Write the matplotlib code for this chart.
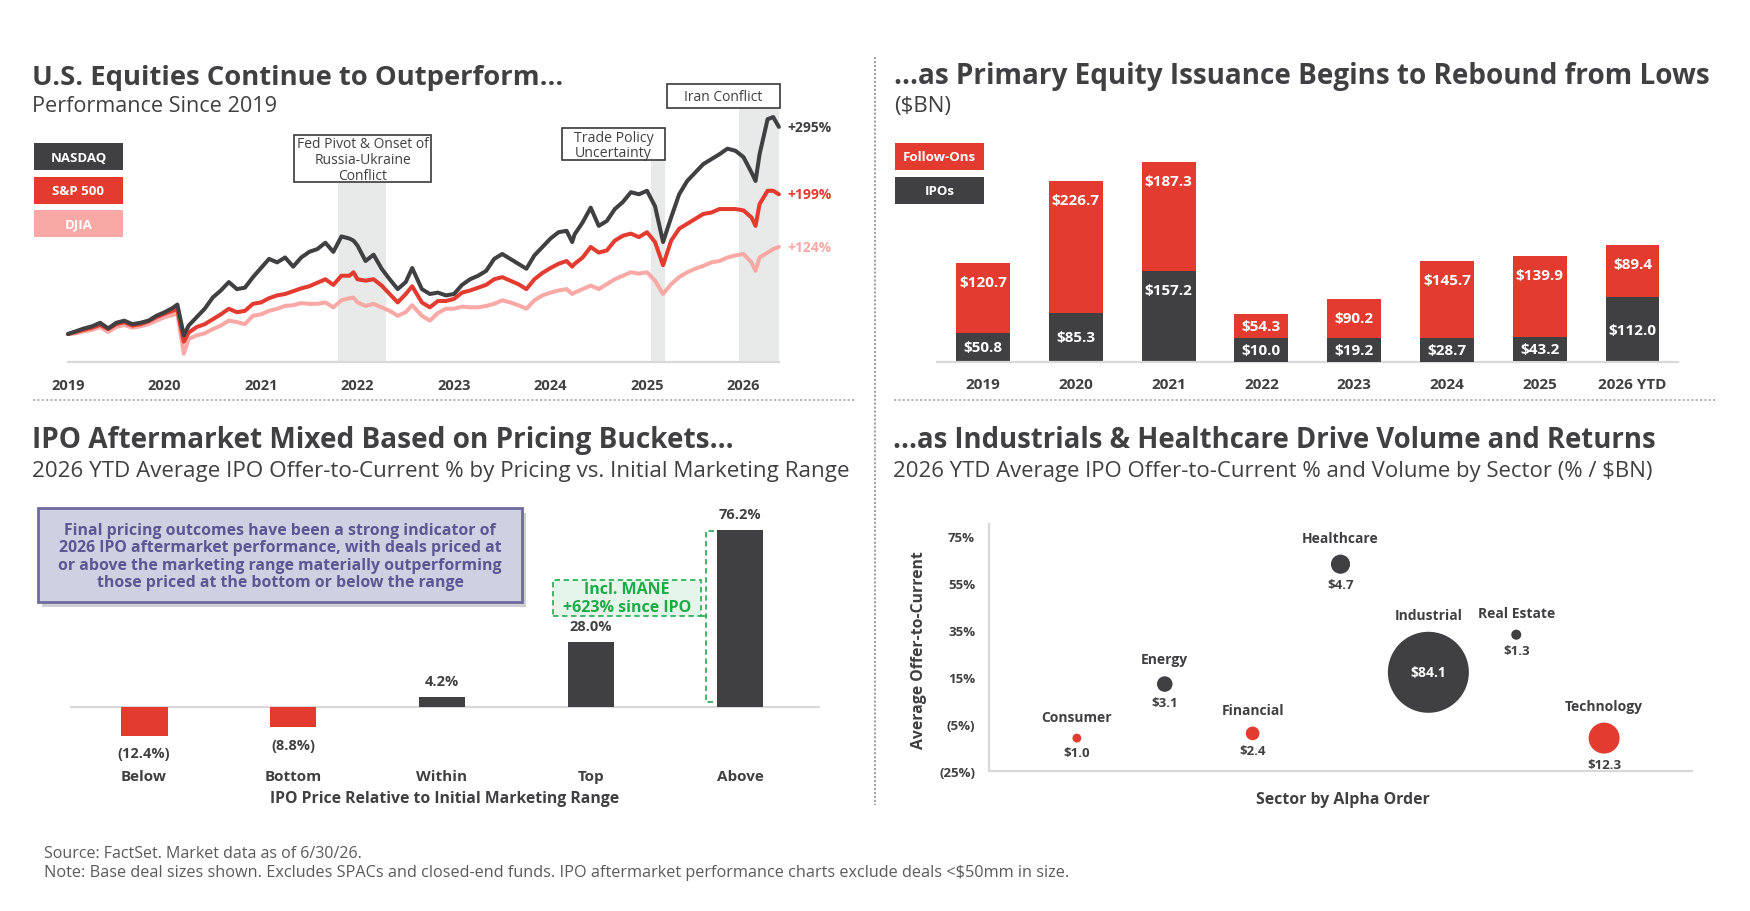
import matplotlib
matplotlib.use("Agg")
import matplotlib.pyplot as plt
from matplotlib.patches import Rectangle
from matplotlib.lines import Line2D
import numpy as np

plt.rcParams['font.family'] = ['Open Sans', 'DejaVu Sans']

# ------------------------------------------------------------------ data
# Performance since 2019 (% change); months since Jan-2019
perf_months = [0, 1, 2, 3, 4, 5, 6, 7, 8, 9, 10, 11, 12, 13, 13.6, 14.4,
               15, 16, 17, 18, 19, 20, 21, 22, 23, 24, 25, 26, 27, 28, 29, 30,
               31, 32, 33, 34, 35, 35.5, 36, 37, 38, 39, 40, 41, 42, 42.8,
               44, 45, 46, 47, 48, 49, 50, 51, 52, 53, 54, 55, 56, 57, 58, 59,
               60, 61, 62, 62.7, 63, 64, 65, 66, 67, 68, 69, 70, 71, 72, 73,
               74, 75, 76, 77, 78, 79, 80, 81, 82, 83, 84, 85, 85.5, 86, 87,
               87.7, 88.4]
nasdaq_pct = [0, 4, 8, 11, 16, 8, 16, 19, 14, 16, 19, 26, 31, 37, 42, -2,
              12, 24, 36, 52, 62, 74, 64, 66, 81, 94, 107, 102, 109, 96, 109, 117,
              121, 130, 117, 139, 136, 133, 126, 104, 113, 93, 78, 64, 74, 94,
              64, 57, 59, 55, 57, 70, 78, 83, 90, 107, 114, 107, 100, 93, 112, 124,
              136, 145, 147, 131, 142, 159, 180, 154, 161, 178, 188, 202, 199, 204, 182,
              131, 166, 199, 218, 230, 242, 249, 256, 264, 261, 252, 230, 218, 256, 306,
              309, 295]
sp500_pct = [0, 3, 6, 9, 13, 7, 14, 17, 12, 14, 18, 24, 29, 33, 35, -11,
             2, 10, 14, 21, 28, 36, 31, 33, 43, 45, 51, 55, 57, 61, 65, 68,
             73, 78, 70, 83, 83, 88, 78, 76, 78, 69, 57, 45, 57, 68,
             45, 38, 47, 47, 50, 59, 62, 66, 70, 78, 81, 76, 71, 64, 78, 87,
             94, 100, 104, 96, 100, 109, 124, 116, 119, 133, 140, 143, 138, 145, 131,
             98, 133, 150, 157, 164, 171, 173, 178, 178, 178, 176, 166, 154, 185, 204,
             204, 199]
djia_pct = [0, 1, 4, 6, 10, 3, 10, 13, 9, 11, 14, 19, 24, 27, 29, -28,
            -7, -2, 1, 7, 12, 19, 17, 14, 26, 28, 33, 36, 40, 41, 44, 43,
            43, 45, 38, 48, 51, 52, 45, 40, 43, 38, 33, 26, 31, 41,
            26, 19, 30, 36, 36, 39, 38, 38, 40, 43, 48, 45, 41, 36, 48, 55,
            59, 62, 64, 57, 59, 64, 69, 64, 71, 78, 83, 88, 86, 88, 76,
            57, 71, 81, 88, 93, 97, 102, 104, 109, 112, 114, 102, 90, 109, 116,
            121, 124]
index_names = ['NASDAQ', 'S&P 500', 'DJIA']
index_end_labels = ['+295%', '+199%', '+124%']
perf_years = [2019, 2020, 2021, 2022, 2023, 2024, 2025, 2026]
event_names = ['Fed Pivot & Onset of\nRussia-Ukraine\nConflict',
               'Trade Policy\nUncertainty', 'Iran Conflict']
event_start = [2021.80, 2025.04, 2025.95]
event_end = [2022.30, 2025.19, 2026.37]

# Primary equity issuance ($BN)
issuance_years = ['2019', '2020', '2021', '2022', '2023', '2024', '2025', '2026 YTD']
ipo_vol = [50.8, 85.3, 157.2, 10.0, 19.2, 28.7, 43.2, 112.0]
follow_on_vol = [120.7, 226.7, 187.3, 54.3, 90.2, 145.7, 139.9, 89.4]

# IPO aftermarket by pricing bucket (%)
pricing_buckets = ['Below', 'Bottom', 'Within', 'Top', 'Above']
pricing_returns = [-12.4, -8.8, 4.2, 28.0, 76.2]

# Sector bubbles
sectors = ['Consumer', 'Energy', 'Financial', 'Healthcare', 'Industrial',
           'Real Estate', 'Technology']
sector_return = [-11, 12, -9, 63, 17, 33, -11]
sector_volume = [1.0, 3.1, 2.4, 4.7, 84.1, 1.3, 12.3]
sector_yticks = [-25, -5, 15, 35, 55, 75]

# ------------------------------------------------------------------ style
DARK = '#404042'
RED = '#E33B30'
PINK = '#F9A9A5'
GRID = '#D9D9D9'
W, H = 1750, 912

fig = plt.figure(figsize=(W / 100, H / 100), dpi=100)
fig.patch.set_facecolor('white')


def fx(x):
    return x / W


def fy(y):
    return 1 - y / H


def ax_px(x0, y0, x1, y1):
    return fig.add_axes([fx(x0), fy(y1), (x1 - x0) / W, (y1 - y0) / H])


fit_list = []


def ftext(x, y, s, target_w=None, **kw):
    t = fig.text(fx(x), fy(y), s, **kw)
    if target_w:
        fit_list.append((t, target_w))
    return t


def frect(x0, y0, x1, y1, **kw):
    r = Rectangle((fx(x0), fy(y1)), (x1 - x0) / W, (y1 - y0) / H,
                  transform=fig.transFigure, **kw)
    fig.patches.append(r)
    return r


def fline(xs, ys, **kw):
    fig.lines.append(Line2D([fx(x) for x in xs], [fy(y) for y in ys],
                            transform=fig.transFigure, **kw))


def clean(ax):
    for s in ax.spines.values():
        s.set_visible(False)
    ax.set_facecolor('none')


# ------------------------------------------------------------------ dividers
fline([875, 875], [58, 806], color='#999999', lw=1.3, ls=(0, (1.2, 1.0)))
fline([33, 856], [401, 401], color='#B0B0B0', lw=1.3, ls=(0, (1.2, 1.2)))
fline([894, 1717], [401, 401], color='#B0B0B0', lw=1.3, ls=(0, (1.2, 1.2)))

# ------------------------------------------------------------------ titles
ftext(32, 85, 'U.S. Equities Continue to Outperform...', 530, fontsize=20,
      fontweight='bold', color=DARK, va='baseline')
ftext(32, 112, 'Performance Since 2019', 246, fontsize=14, color=DARK, va='baseline')
ftext(894, 84, '...as Primary Equity Issuance Begins to Rebound from Lows', 815,
      fontsize=20, fontweight='bold', color=DARK, va='baseline')
ftext(894, 112, '($BN)', 57, fontsize=14, color=DARK, va='baseline')
ftext(32, 448, 'IPO Aftermarket Mixed Based on Pricing Buckets...', 702, fontsize=20,
      fontweight='bold', color=DARK, va='baseline')
ftext(32, 477, '2026 YTD Average IPO Offer-to-Current % by Pricing vs. Initial Marketing Range',
      822, fontsize=14, color=DARK, va='baseline')
ftext(893, 448, '...as Industrials & Healthcare Drive Volume and Returns', 762,
      fontsize=20, fontweight='bold', color=DARK, va='baseline')
ftext(893, 477, '2026 YTD Average IPO Offer-to-Current % and Volume by Sector (% / $BN)',
      762, fontsize=14, color=DARK, va='baseline')

# ------------------------------------------------------------------ chart 1: performance
ax1 = ax_px(60, 85, 790, 365)
clean(ax1)
ax1.set_xlim(2018.917, 2026.482)
ax1.set_ylim(-42.7, 356.1)
t = 2019 + np.array(perf_months) / 12.0
series = [nasdaq_pct, sp500_pct, djia_pct]
colors = [DARK, RED, PINK]
shade_top = [216.5, 247.9, 321.9]
for s, e, top in zip(event_start, event_end, shade_top):
    ax1.fill_between([s, e], -39.9, top, color='#E8EAE9', lw=0, zorder=1)
for vals, col, z in zip(series[::-1], colors[::-1], [2.0, 2.1, 2.2]):
    ax1.plot(t, vals, color=col, lw=2.9, zorder=z, solid_joinstyle='round',
             solid_capstyle='round')
ax1.plot([2019, t[-1]], [-39.9, -39.9], color=GRID, lw=1.6, zorder=1.5)
for vals, col, lab in zip(series, colors, index_end_labels):
    ax1.annotate(lab, xy=(t[-1], vals[-1]), xytext=(6, 0), textcoords='offset points',
                 va='center', ha='left', fontsize=10, fontweight='bold', color=col)
ax1.set_yticks([])
ax1.set_xticks(perf_years, [str(y) for y in perf_years])
ax1.tick_params(axis='x', length=0, pad=10)
for lb in ax1.get_xticklabels():
    lb.set_fontweight('bold'); lb.set_fontsize(10.5); lb.set_color(DARK)

# event boxes
ev_boxes = [(294, 136, 431, 183), (562, 129, 665, 161), (667, 85, 780, 109)]
ev_widths = [133, 80, 79]
for name, (x0, y0, x1, y1), tw in zip(event_names, ev_boxes, ev_widths):
    frect(x0, y0, x1, y1, fc='white', ec='#3A3A3A', lw=1.2, zorder=5)
    ftext((x0 + x1) / 2, (y0 + y1) / 2 + 1, name, tw, fontsize=9.5, color=DARK,
          ha='center', va='center', linespacing=1.05, zorder=6)

# legend boxes
for i, (name, col) in enumerate(zip(index_names, colors)):
    y0 = 144 + i * 33.5
    frect(34, y0, 123, y0 + 27, fc=col, ec='none')
    ftext(78.5, y0 + 14, name, fontsize=9.5, fontweight='bold', color='white',
          ha='center', va='center')

# ------------------------------------------------------------------ chart 2: issuance
ax2 = ax_px(937, 140, 1678, 363)
clean(ax2)
ax2.spines['bottom'].set_visible(True)
ax2.spines['bottom'].set_color(GRID)
ax2.spines['bottom'].set_linewidth(1.6)
ymax2 = 384.5
ax2.set_ylim(0, ymax2)
ax2.set_xlim(-0.496, 7.49)
xb = np.arange(len(issuance_years))
bw = 0.58
ax2.bar(xb, ipo_vol, width=bw, color=DARK, zorder=2)
ax2.bar(xb, follow_on_vol, width=bw, bottom=ipo_vol, color=RED, zorder=2)
unit = 223.0 / ymax2  # px per $BN
for i, (ipo, fo) in enumerate(zip(ipo_vol, follow_on_vol)):
    h_ipo = ipo * unit
    ipo_lab = h_ipo - 19 if h_ipo > 80 else max(h_ipo / 2, 12)
    fo_top = (ipo + fo) * unit
    fo_lab = max(fo_top - 19, ipo_lab + 24)
    for lab_px, val, col in [(ipo_lab, ipo, DARK), (fo_lab, fo, RED)]:
        ax2.add_patch(Rectangle((i - bw / 2, (lab_px - 12) / unit), bw, 24 / unit,
                                fc=col, ec='none', zorder=3))
        ax2.text(i, lab_px / unit, f'${val:.1f}', ha='center', va='center',
                 color='white', fontsize=11, fontweight='bold', zorder=4)
ax2.set_yticks([])
ax2.set_xticks(xb, issuance_years)
ax2.tick_params(axis='x', length=0, pad=11)
for lb in ax2.get_xticklabels():
    lb.set_fontweight('bold'); lb.set_fontsize(11); lb.set_color(DARK)

for i, (name, col) in enumerate(zip(['Follow-Ons', 'IPOs'], [RED, DARK])):
    y0 = 144 + i * 34
    frect(895, y0, 984, y0 + 26.5, fc=col, ec='none')
    ftext(939.5, y0 + 13.5, name, fontsize=9.5, fontweight='bold', color='white',
          ha='center', va='center')

# ------------------------------------------------------------------ chart 3: pricing buckets
ax3 = ax_px(70, 500, 820, 760)
clean(ax3)
ax3.set_xlim(-0.497, 4.537)
ax3.set_ylim((708 - 760) / 2.32, (708 - 500) / 2.32)
xp = np.arange(len(pricing_buckets))
pcol = [RED if v < 0 else DARK for v in pricing_returns]
ax3.bar(xp, pricing_returns, width=0.315, color=pcol, zorder=2)
ax3.axhline(0, color=GRID, lw=1.6, zorder=1)
for i, v in enumerate(pricing_returns):
    lab = f'{v:.1f}%' if v >= 0 else f'({abs(v):.1f}%)'
    off = 11.5 if v >= 0 else -12.5
    ax3.annotate(lab, xy=(i, v), xytext=(0, off), textcoords='offset points',
                 ha='center', va='center', fontsize=10.5, fontweight='bold', color=DARK)
ax3.set_yticks([])
ax3.set_xticks(xp, pricing_buckets)
ax3.tick_params(axis='x', length=0, pad=7)
for lb in ax3.get_xticklabels():
    lb.set_fontweight('bold'); lb.set_fontsize(11); lb.set_color(DARK)
ax3.set_xlabel('IPO Price Relative to Initial Marketing Range', fontsize=11.3,
               fontweight='bold', color=DARK, labelpad=5)

# purple callout
frect(42, 514, 526, 608, fc='#A9A9B0', ec='none', alpha=0.55, zorder=1)
frect(38, 509, 522, 603, fc='#D0D0E3', ec='#6E6B9E', lw=2, zorder=2)
ftext(280, 557, 'Final pricing outcomes have been a strong indicator of\n'
      '2026 IPO aftermarket performance, with deals priced at\n'
      'or above the marketing range materially outperforming\n'
      'those priced at the bottom or below the range', 442,
      fontsize=10.5, fontweight='bold', color='#5A5792', ha='center', va='center',
      linespacing=1.12, zorder=3)

# green callout
GREEN = '#2DB35A'
frect(553, 581, 701, 617, fc='#E5F5EA', ec=GREEN, lw=1.3, ls=(0, (3, 2)), zorder=3)
ftext(627, 599, 'Incl. MANE\n+623% since IPO', 128, fontsize=10, fontweight='bold',
      color='#1FAA48', ha='center', va='center', linespacing=1.15, zorder=4)
fline([714, 706, 706, 714], [532, 532, 703, 703], color=GREEN, lw=1.3, ls=(0, (3, 2)))
fline([701, 706], [617, 617], color=GREEN, lw=1.3)

# ------------------------------------------------------------------ chart 4: sectors
ax4 = ax_px(989, 525, 1692, 772)
clean(ax4)
for s in ['left', 'bottom']:
    ax4.spines[s].set_visible(True)
    ax4.spines[s].set_color(GRID)
    ax4.spines[s].set_linewidth(1.6)
ax4.set_xlim(-1, 7)
ax4.set_ylim(-25, 80.1)
xs = np.arange(len(sectors))
sizes = np.array(sector_volume) * 40.45
scol = [RED if r < 0 else DARK for r in sector_return]
ax4.scatter(xs, sector_return, s=sizes, c=scol, linewidths=0, zorder=3, clip_on=False)
for i, (name, r, v, s) in enumerate(zip(sectors, sector_return, sector_volume, sizes)):
    rpt = np.sqrt(s) / 2
    ax4.annotate(name, xy=(i, r), xytext=(0, rpt + 12.2), textcoords='offset points',
                 ha='center', va='center', fontsize=10, fontweight='bold', color=DARK)
    if rpt * 2 > 36:
        ax4.text(i, r, f'${v:.1f}', ha='center', va='center', fontsize=10,
                 fontweight='bold', color='white', zorder=4)
    else:
        ax4.annotate(f'${v:.1f}', xy=(i, r), xytext=(0, -(rpt + 7.5)),
                     textcoords='offset points', ha='center', va='center',
                     fontsize=9.5, fontweight='bold', color=DARK)
ax4.set_xticks([])
ax4.set_yticks(sector_yticks,
               [f'{v}%' if v >= 0 else f'({abs(v)}%)' for v in sector_yticks])
ax4.tick_params(axis='y', length=0, pad=10)
for lb in ax4.get_yticklabels():
    lb.set_fontweight('bold'); lb.set_fontsize(9.5); lb.set_color(DARK)
ftext(919, 650, 'Average Offer-to-Current', 197, fontsize=10, fontweight='bold',
      color=DARK, rotation=90, ha='center', va='center')
ftext(1343, 800, 'Sector by Alpha Order', 174, fontsize=10, fontweight='bold',
      color=DARK, ha='center', va='center')

# ------------------------------------------------------------------ footnotes
ftext(44, 858, 'Source: FactSet. Market data as of 6/30/26.', 319, fontsize=10,
      color='#5A5A5A', va='baseline')
ftext(44, 877, 'Note: Base deal sizes shown. Excludes SPACs and closed-end funds. '
      'IPO aftermarket performance charts exclude deals <$50mm in size.', 1022,
      fontsize=10, color='#5A5A5A', va='baseline')

# ------------------------------------------------------------------ fit text widths
fig.canvas.draw()
rend = fig.canvas.get_renderer()
for txt, tw in fit_list:
    w = txt.get_window_extent(rend).width
    if txt.get_rotation() == 90:
        w = txt.get_window_extent(rend).height
    txt.set_fontsize(txt.get_fontsize() * tw / w)

fig.savefig('out.png', dpi=100, facecolor='white')
